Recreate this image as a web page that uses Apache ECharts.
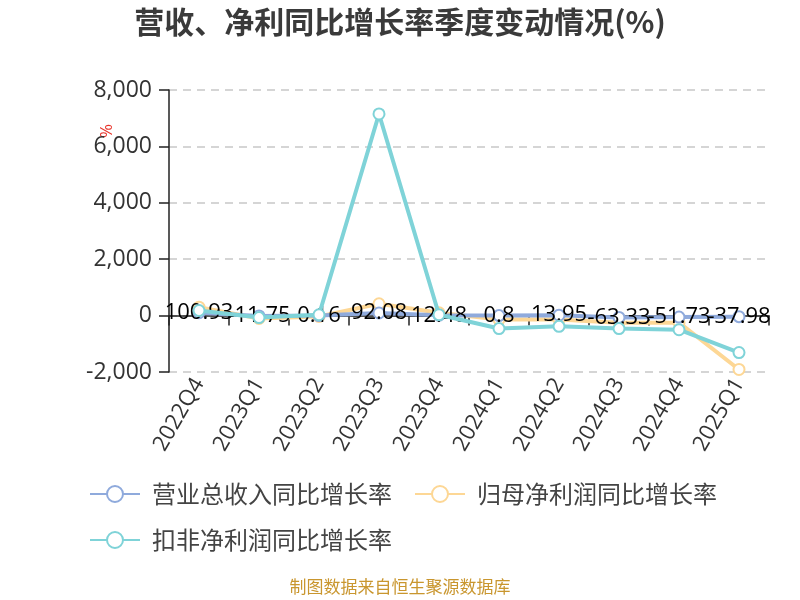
<!DOCTYPE html>
<html>
<head>
<meta charset="utf-8">
<script src="https://cdn.jsdelivr.net/npm/echarts@6/dist/echarts.min.js"></script>
<style>html,body{margin:0;padding:0;background:#fff}#c{width:800px;height:600px}</style>
</head>
<body>
<div id="c"></div>
<script>
var categories = ['2022Q4','2023Q1','2023Q2','2023Q3','2023Q4','2024Q1','2024Q2','2024Q3','2024Q4','2025Q1'];
var revenueGrowth = [100.93, -11.75, 0.16, 92.08, 12.48, 0.8, 13.95, -63.33, -51.73, -37.98];
var netProfitGrowth = [300, -100, -30, 420, 100, -140, -140, -250, -250, -1910];
var deductedProfitGrowth = [180, -70, 30, 7150, 30, -460, -380, -460, -500, -1310];
var yTicks = {min: -2000, max: 8000, interval: 2000};
var seriesNames = ['营业总收入同比增长率', '归母净利润同比增长率', '扣非净利润同比增长率'];
var colors = ['#8FAADC', '#FDD795', '#7FD3D8'];

var FONT = '"Open Sans", "Noto Sans CJK SC", sans-serif';
var CJK = '"Noto Sans CJK SC", sans-serif';
var chart = echarts.init(document.getElementById('c'), null, {renderer: 'canvas'});

function lineSeries(name, data, color, extra) {
  var s = {
    name: name, type: 'line', data: data,
    symbol: 'emptyCircle', symbolSize: 11,
    lineStyle: {color: color, width: 4},
    itemStyle: {color: color, borderWidth: 2.5, borderColor: color},
    xAxisIndex: 0
  };
  for (var k in extra) s[k] = extra[k];
  return s;
}

chart.setOption({
  animation: false,
  color: colors,
  textStyle: {fontFamily: FONT},
  title: [{
    text: '营收、净利同比增长率季度变动情况(%)',
    left: 'center', top: 2,
    textStyle: {fontSize: 30, fontWeight: 'bold', color: '#3a3a3a', fontFamily: CJK}
  }, {
    text: '制图数据来自恒生聚源数据库',
    left: 'center', bottom: 0,
    textStyle: {fontSize: 17, fontWeight: 'normal', color: '#C9962E', fontFamily: CJK}
  }],
  graphic: [{
    type: 'text', left: 99, top: 124, rotation: Math.PI / 2,
    style: {text: '%', fill: '#e8342b', fontSize: 17, fontFamily: FONT}
  }],
  legend: {
    left: 89, top: 482, padding: 0,
    itemWidth: 50, itemHeight: 20, itemGap: 22,
    data: seriesNames,
    textStyle: {fontSize: 24, lineHeight: 20, color: '#444', fontFamily: CJK, padding: [0, 0, 0, 7]}
  },
  grid: {left: 169, right: 31, top: 90, bottom: 228, containLabel: false},
  xAxis: [{
    type: 'category', data: categories, position: 'bottom',
    axisLine: {show: false, onZero: false},
    axisTick: {show: false},
    axisLabel: {rotate: 60, fontSize: 22, color: '#333', margin: 8, fontFamily: FONT}
  }, {
    type: 'category', data: categories, position: 'bottom',
    axisLine: {show: true, onZero: true, lineStyle: {color: '#222', width: 1.5}},
    axisTick: {show: true, length: 10, lineStyle: {color: '#222', width: 1.5}},
    axisLabel: {show: false},
    splitLine: {show: false}
  }],
  yAxis: {
    type: 'value', min: yTicks.min, max: yTicks.max, interval: yTicks.interval,
    axisLine: {show: true, lineStyle: {color: '#222', width: 1.5}},
    axisTick: {show: true, length: 10, lineStyle: {color: '#222', width: 1.5}},
    axisLabel: {fontSize: 23, color: '#333', margin: 17, fontFamily: FONT},
    splitLine: {show: true, lineStyle: {color: '#c8c8c8', type: [8, 6], width: 1.5}}
  },
  series: [
    lineSeries(seriesNames[0], revenueGrowth, colors[0], {
      z: 3,
      label: {show: true, position: 'inside', color: '#000', fontSize: 22, fontFamily: FONT}
    }),
    lineSeries(seriesNames[1], netProfitGrowth, colors[1], {z: 2}),
    lineSeries(seriesNames[2], deductedProfitGrowth, colors[2], {z: 4})
  ]
});
</script>
</body>
</html>
